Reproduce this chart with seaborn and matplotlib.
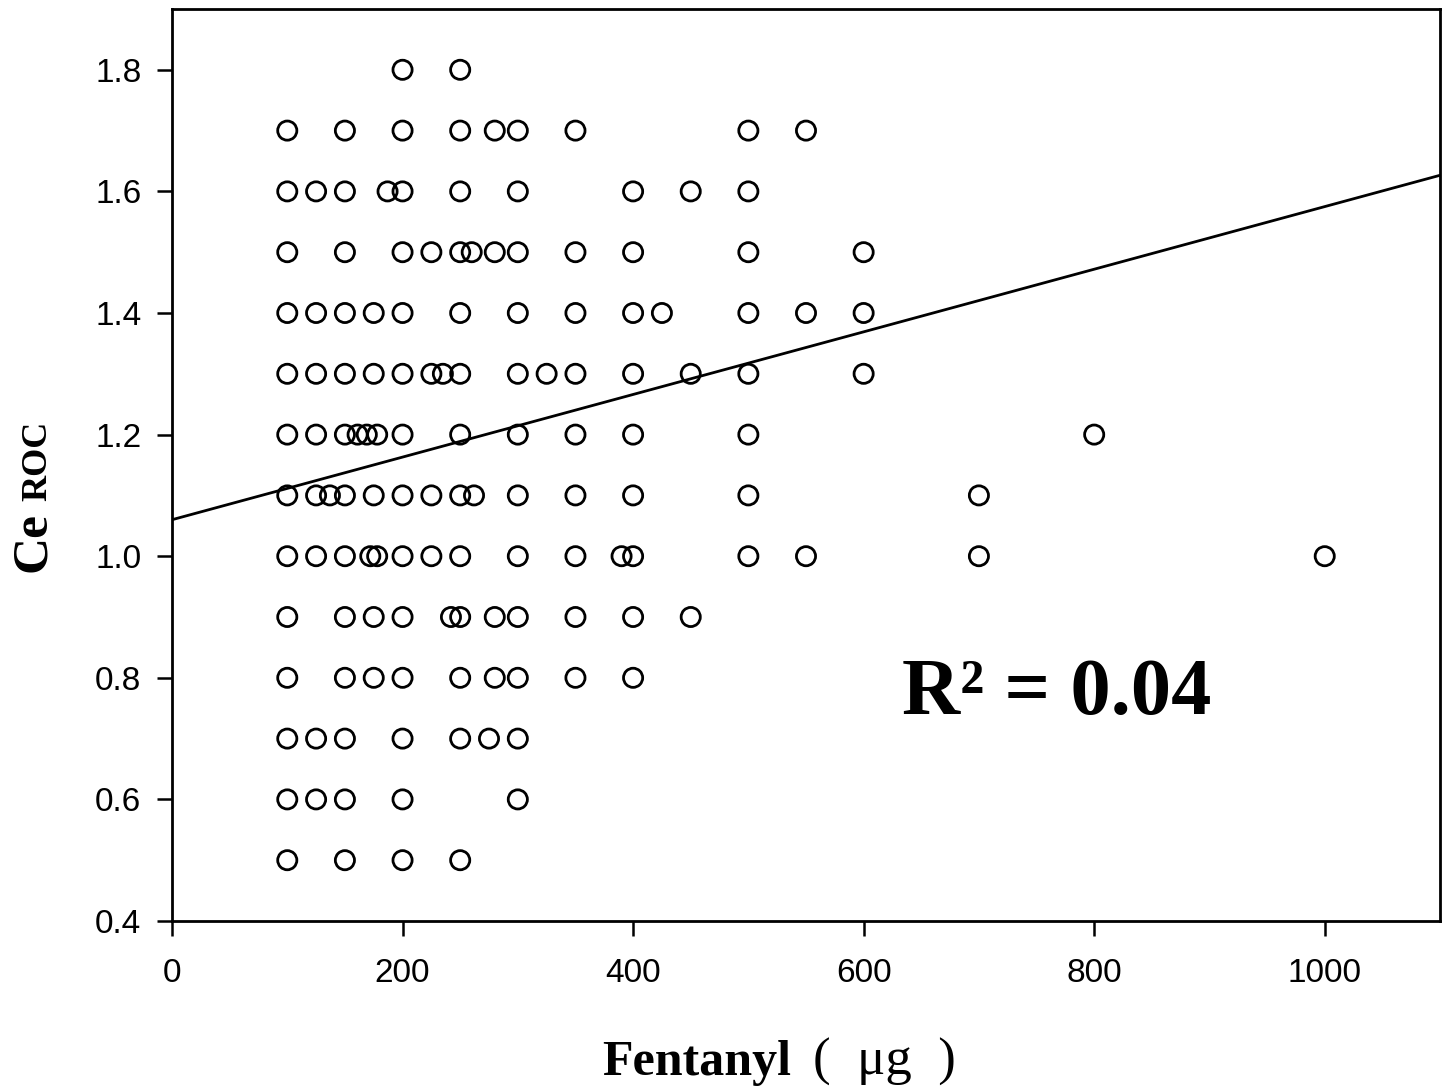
import numpy as np
import pandas as pd
import matplotlib
matplotlib.use("Agg")
import matplotlib.pyplot as plt
import seaborn as sns

# ---- data: fentanyl dose (ug) at each Ce ROC level ----
ce_levels = [1.8, 1.7, 1.6, 1.5, 1.4, 1.3, 1.2, 1.1, 1.0, 0.9, 0.8, 0.7, 0.6, 0.5]
dose_18 = [200, 250]
dose_17 = [100, 150, 200, 250, 280, 300, 350, 500, 550]
dose_16 = [100, 125, 150, 187, 200, 250, 300, 400, 450, 500]
dose_15 = [100, 150, 200, 225, 250, 260, 280, 300, 350, 400, 500, 600]
dose_14 = [100, 125, 150, 175, 200, 250, 300, 350, 400, 425, 500, 550, 600]
dose_13 = [100, 125, 150, 175, 200, 225, 235, 250, 300, 325, 350, 400, 450, 500, 600]
dose_12 = [100, 125, 150, 161, 169, 178, 200, 250, 300, 350, 400, 500, 800]
dose_11 = [100, 125, 137, 150, 175, 200, 225, 250, 262, 300, 350, 400, 500, 700]
dose_10 = [100, 125, 150, 172, 178, 200, 225, 250, 300, 350, 390, 400, 500, 550, 700, 1000]
dose_09 = [100, 150, 175, 200, 242, 250, 280, 300, 350, 400, 450]
dose_08 = [100, 150, 175, 200, 250, 280, 300, 350, 400]
dose_07 = [100, 125, 150, 200, 250, 275, 300]
dose_06 = [100, 125, 150, 200, 300]
dose_05 = [100, 150, 200, 250]
dose_rows = [dose_18, dose_17, dose_16, dose_15, dose_14, dose_13, dose_12,
             dose_11, dose_10, dose_09, dose_08, dose_07, dose_06, dose_05]

# fitted regression line
fit_intercept = 1.06
fit_slope = 0.000515
fit_x = [0, 1100]
r2_text = "R² = 0.04"

x_ticks = [0, 200, 400, 600, 800, 1000]
y_ticks = [0.4, 0.6, 0.8, 1.0, 1.2, 1.4, 1.6, 1.8]

rows = []
for lvl, doses in zip(ce_levels, dose_rows):
    for d in doses:
        rows.append({"Fentanyl": d, "Ce": lvl})
df = pd.DataFrame(rows)
line_df = pd.DataFrame({"x": fit_x, "y": [fit_intercept + fit_slope * v for v in fit_x]})

sns.set_theme(style="ticks")
plt.rcParams['font.family'] = ['Liberation Sans', 'DejaVu Sans']
plt.rcParams['text.color'] = 'black'

W, H = 1448, 1091
fig = plt.figure(figsize=(W / 100, H / 100), dpi=100)
ax = fig.add_axes([172 / W, (H - 921) / H, (1440 - 172) / W, (921 - 9) / H])

sns.lineplot(data=line_df, x="x", y="y", ax=ax, color="black", linewidth=2.0, zorder=2)
sns.scatterplot(data=df, x="Fentanyl", y="Ce", ax=ax, s=190, facecolor="none",
                edgecolor="black", linewidth=2.0, zorder=3)

ax.set_xlim(0, 1100)
ax.set_ylim(0.4, 1.9)
ax.set_xticks(x_ticks)
ax.set_xticklabels([str(t) for t in x_ticks])
ax.set_yticks(y_ticks)
ax.set_yticklabels([f"{t:.1f}" for t in y_ticks])
ax.tick_params(axis="both", direction="out", length=11, width=1.8, labelsize=24,
               colors="black", labelcolor="black")
ax.tick_params(axis="x", pad=16)
ax.tick_params(axis="y", pad=11)
for sp in ax.spines.values():
    sp.set_linewidth(2.0)
    sp.set_color("black")
ax.set_xlabel("")
ax.set_ylabel("")

serif = ['Liberation Serif', 'DejaVu Serif']
# y label: "Ce" with small "ROC"
fig.text(56 / W, 1 - 542 / H, "Ce", rotation=90, ha="right", va="center",
         fontsize=37, fontweight="bold", family=serif, color="black")
fig.text(54 / W, 1 - 461 / H, "ROC", rotation=90, ha="right", va="center",
         fontsize=26, fontweight="bold", family=serif, color="black")

# x label
fig.text(602 / W, 1 - 1075 / H, "Fentanyl", ha="left", va="baseline",
         fontsize=36, fontweight="bold", family=serif, color="black")
fig.text(813 / W, 1 - 1075 / H, "(  μg  )", ha="left", va="baseline",
         fontsize=38, family=serif, color="black")

# R^2 annotation
fig.text(1057 / W, 1 - 714 / H, r2_text, ha="center", va="baseline",
         fontsize=58, fontweight="bold", family=serif, color="black")

fig.savefig("out.png", dpi=100)
